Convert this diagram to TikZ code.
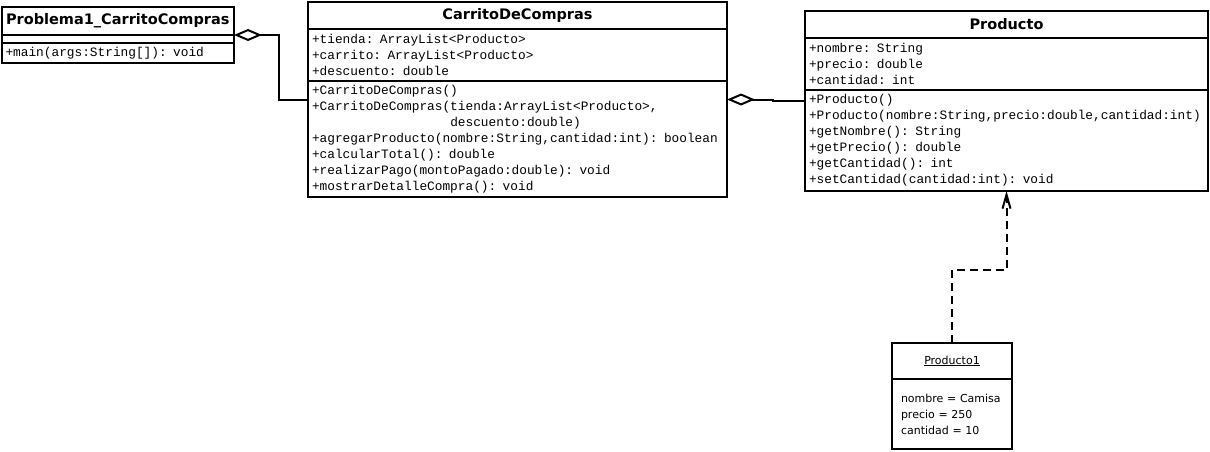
\documentclass[tikz,border=0pt]{standalone}
\usepackage{fontspec}
\setmainfont{DejaVu Sans}
\newfontfamily\umlmono{Liberation Mono}
\usetikzlibrary{positioning,fit,arrows.meta}

\begin{document}
\begin{tikzpicture}[x=1pt,y=-1pt,
  classtitle/.style={draw,line width=2pt,outer sep=0pt,inner xsep=4pt,inner ysep=0pt,
    align=center,font=\fontsize{14.5}{16}\selectfont\bfseries,minimum height=#1},
  classpart/.style={draw,line width=2pt,outer sep=0pt,inner xsep=4pt,inner ysep=0pt,
    align=left,font=\umlmono\fontsize{12.8}{16}\selectfont,minimum height=#1},
  objtitle/.style={draw,line width=2pt,outer sep=0pt,inner sep=0pt,
    align=center,font=\fontsize{11}{16}\selectfont,minimum height=#1},
  objpart/.style={draw,line width=2pt,outer sep=0pt,inner xsep=9pt,inner ysep=0pt,
    align=left,font=\fontsize{11}{16}\selectfont,minimum height=#1},
  classbox/.style={inner sep=0pt,outer sep=0pt},
  aggr/.style={line width=2pt,{Diamond[open,length=28pt,width=12pt]}-},
  depend/.style={line width=2pt,dash pattern=on 8pt off 5pt,-{Straight Barb[length=14pt,width=8pt]}}
]
\useasboundingbox (0,0) rectangle (1210,452);

\node[classtitle=28pt,text width=224.5pt,anchor=north west] (maintitle) at (1.5,7) {Problema1\_CarritoCompras};
\node[classpart=8pt,text width=224.5pt,below=0pt of maintitle] (mainattr) {};
\node[classpart=20pt,text width=224.5pt,below=0pt of mainattr] (mainops) {+main(args:String[]): void};
\node[classbox,fit=(maintitle)(mainops)] (main) {};

\node[classtitle=27pt,text width=411pt,anchor=north west] (carritotitle) at (308,2) {CarritoDeCompras};
\node[classpart=52pt,text width=411pt,below=0pt of carritotitle] (carritoattr) {+tienda: ArrayList<Producto>\\
+carrito: ArrayList<Producto>\\
+descuento: double};
\node[classpart=116pt,text width=411pt,below=0pt of carritoattr] (carritoops) {+CarritoDeCompras()\\
+CarritoDeCompras(tienda:ArrayList<Producto>,\\
\phantom{+CarritoDeCompras(}descuento:double)\\
+agregarProducto(nombre:String,cantidad:int): boolean\\
+calcularTotal(): double\\
+realizarPago(montoPagado:double): void\\
+mostrarDetalleCompra(): void};
\node[classbox,fit=(carritotitle)(carritoops)] (carrito) {};

\node[classtitle=27pt,text width=395pt,anchor=north west] (productotitle) at (805,11) {Producto};
\node[classpart=52pt,text width=395pt,below=0pt of productotitle] (productoattr) {+nombre: String\\
+precio: double\\
+cantidad: int};
\node[classpart=101pt,text width=395pt,below=0pt of productoattr] (productoops) {+Producto()\\
+Producto(nombre:String,precio:double,cantidad:int)\\
+getNombre(): String\\
+getPrecio(): double\\
+getCantidad(): int\\
+setCantidad(cantidad:int): void};
\node[classbox,fit=(productotitle)(productoops)] (producto) {};

\node[objtitle=36pt,text width=120pt,anchor=north west] (objtitle) at (892,343) {\underline{Producto1}};
\node[objpart=70pt,text width=102pt,below=0pt of objtitle] (objattr) {nombre = Camisa\\
precio = 250\\
cantidad = 10};

\draw[aggr] (main.east) -- ++(45,0) |- (carrito.west);
\draw[aggr] (carrito.east) -- ++(46,0) |- (producto.west);
\draw[depend] (objtitle.north) -- ++(0,-73) -| (producto.south);
\end{tikzpicture}
\end{document}
